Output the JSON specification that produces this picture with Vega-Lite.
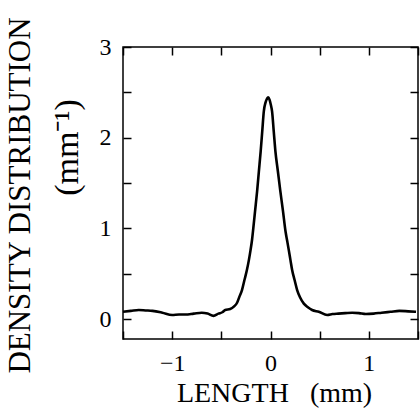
{
  "$schema": "https://vega.github.io/schema/vega-lite/v6.json",
  "autosize": "none",
  "width": 295,
  "height": 292,
  "padding": {"left": 123, "top": 47, "right": 2, "bottom": 70},
  "background": "white",
  "config": {
    "view": {"stroke": "black", "strokeWidth": 1.5},
    "font": "Liberation Serif"
  },
  "data": {
    "values": [
      {"x": -1.5, "y": 0.08}, {"x": -1.42, "y": 0.09}, {"x": -1.34, "y": 0.1}, {"x": -1.27, "y": 0.095},
      {"x": -1.2, "y": 0.09}, {"x": -1.1, "y": 0.07}, {"x": -1.0, "y": 0.045}, {"x": -0.93, "y": 0.05},
      {"x": -0.865, "y": 0.05}, {"x": -0.78, "y": 0.06}, {"x": -0.7, "y": 0.07}, {"x": -0.64, "y": 0.06},
      {"x": -0.58, "y": 0.035}, {"x": -0.53, "y": 0.06}, {"x": -0.49, "y": 0.075}, {"x": -0.46, "y": 0.1},
      {"x": -0.41, "y": 0.11}, {"x": -0.37, "y": 0.14}, {"x": -0.34, "y": 0.18}, {"x": -0.315, "y": 0.25},
      {"x": -0.29, "y": 0.32}, {"x": -0.265, "y": 0.43}, {"x": -0.24, "y": 0.54}, {"x": -0.22, "y": 0.65},
      {"x": -0.203, "y": 0.76}, {"x": -0.187, "y": 0.88}, {"x": -0.178, "y": 0.97}, {"x": -0.157, "y": 1.19},
      {"x": -0.136, "y": 1.41}, {"x": -0.118, "y": 1.63}, {"x": -0.1, "y": 1.85}, {"x": -0.084, "y": 2.07},
      {"x": -0.068, "y": 2.29}, {"x": -0.05, "y": 2.39}, {"x": -0.035, "y": 2.43}, {"x": -0.024, "y": 2.445},
      {"x": -0.01, "y": 2.42}, {"x": 0.004, "y": 2.36}, {"x": 0.016, "y": 2.29}, {"x": 0.033, "y": 2.07},
      {"x": 0.05, "y": 1.85}, {"x": 0.075, "y": 1.63}, {"x": 0.1, "y": 1.41}, {"x": 0.127, "y": 1.19},
      {"x": 0.153, "y": 0.965}, {"x": 0.17, "y": 0.86}, {"x": 0.186, "y": 0.76}, {"x": 0.203, "y": 0.65},
      {"x": 0.22, "y": 0.54}, {"x": 0.245, "y": 0.43}, {"x": 0.271, "y": 0.32}, {"x": 0.3, "y": 0.24},
      {"x": 0.339, "y": 0.17}, {"x": 0.38, "y": 0.13}, {"x": 0.423, "y": 0.1}, {"x": 0.491, "y": 0.08},
      {"x": 0.576, "y": 0.045}, {"x": 0.63, "y": 0.055}, {"x": 0.69, "y": 0.06}, {"x": 0.76, "y": 0.065},
      {"x": 0.83, "y": 0.07}, {"x": 0.9, "y": 0.065}, {"x": 0.97, "y": 0.055}, {"x": 1.05, "y": 0.06},
      {"x": 1.13, "y": 0.07}, {"x": 1.22, "y": 0.08}, {"x": 1.31, "y": 0.09}, {"x": 1.4, "y": 0.085},
      {"x": 1.48, "y": 0.08}
    ]
  },
  "resolve": {"axis": {"x": "independent", "y": "independent"}},
  "layer": [
    {
      "mark": {"type": "line", "color": "black", "strokeWidth": 2.6, "interpolate": "monotone"},
      "encoding": {
        "x": {
          "field": "x", "type": "quantitative",
          "scale": {"domain": [-1.5, 1.5], "nice": false, "zero": false},
          "axis": {
            "orient": "bottom",
            "tickCount": 6,
            "labelExpr": "datum.value % 1 === 0 ? format(datum.value, 'd') : ''",
            "domain": false,
            "gridOpacity": 0,
            "tickSize": -8,
            "tickColor": "black",
            "tickWidth": 1.5,
            "labelPadding": 20,
            "labelFontSize": 24,
            "labelColor": "black",
            "labelFont": "Liberation Serif",
            "title": "LENGTH\u00a0\u00a0\u00a0(mm)",
            "titleFont": "Liberation Serif",
            "titleFontWeight": "normal",
            "titleColor": "black",
            "titleFontSize": 28,
            "titleX": 151,
            "titleY": 62,
            "titleBaseline": "alphabetic"
          }
        },
        "y": {
          "field": "y", "type": "quantitative",
          "scale": {"domain": [-0.22, 3], "nice": false, "zero": false},
          "axis": {
            "orient": "left",
            "tickCount": 7,
            "labelExpr": "datum.value % 1 === 0 ? format(datum.value, 'd') : ''",
            "domain": false,
            "gridOpacity": 0,
            "tickSize": -8,
            "tickColor": "black",
            "tickWidth": 1.5,
            "labelPadding": 20,
            "labelFontSize": 24,
            "labelColor": "black",
            "labelFont": "Liberation Serif",
            "title": "DENSITY DISTRIBUTION",
            "titleFont": "Liberation Serif",
            "titleFontWeight": "normal",
            "titleColor": "black",
            "titleFontSize": 31,
            "titleAngle": -90,
            "titleX": -103,
            "titleY": 148,
            "titleBaseline": "middle",
            "titleAlign": "center"
          }
        }
      }
    },
    {
      "mark": {"type": "line", "opacity": 0},
      "encoding": {
        "x": {
          "field": "x", "type": "quantitative",
          "axis": {
            "orient": "top",
            "tickCount": 6,
            "labels": false,
            "domain": false,
            "gridOpacity": 0,
            "tickSize": -8,
            "tickColor": "black",
            "tickWidth": 1.5,
            "title": null
          }
        },
        "y": {
          "field": "y", "type": "quantitative",
          "axis": {
            "orient": "right",
            "tickCount": 7,
            "labels": false,
            "domain": false,
            "gridOpacity": 0,
            "tickSize": -8,
            "tickColor": "black",
            "tickWidth": 1.5,
            "title": "(mm⁻¹)",
            "titleFont": "Liberation Serif",
            "titleFontWeight": "normal",
            "titleColor": "black",
            "titleFontSize": 34,
            "titleAngle": -90,
            "titleX": -351,
            "titleY": 100,
            "titleBaseline": "middle",
            "titleAlign": "center"
          }
        }
      }
    }
  ]
}
